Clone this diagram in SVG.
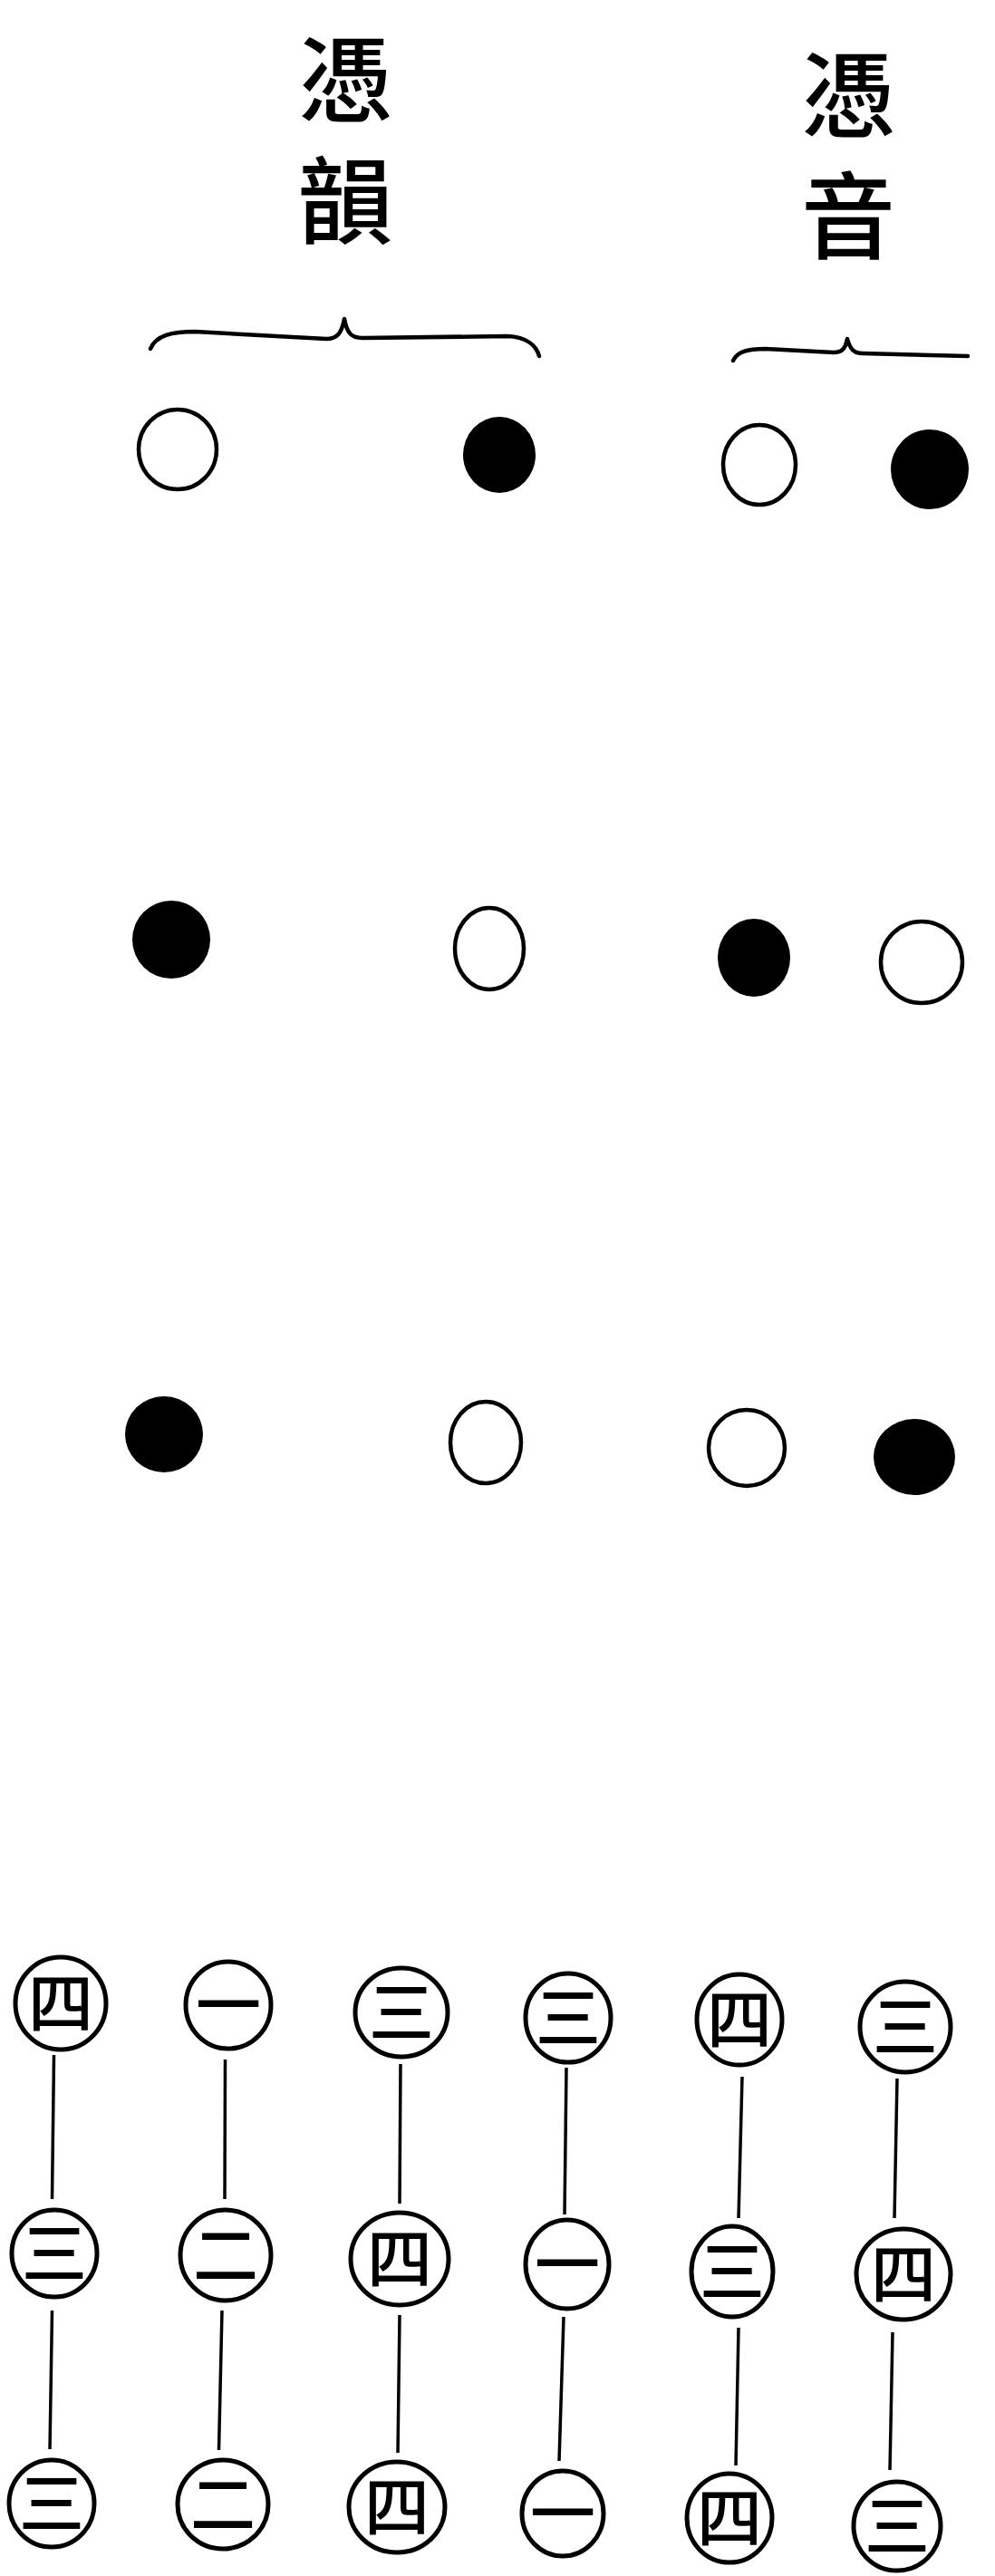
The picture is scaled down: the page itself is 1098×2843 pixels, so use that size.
<svg xmlns="http://www.w3.org/2000/svg" width="1098" height="2843" viewBox="0 0 1098 2843">
<style>
.bg{fill:#ffffff}
.hd{font-family:"Noto Sans CJK TC","Noto Sans CJK SC",sans-serif;font-size:104px;font-weight:500;fill:#000;writing-mode:vertical-rl;letter-spacing:30px}
.brace{fill:none;stroke:#000;stroke-width:4.5;stroke-linecap:round;stroke-linejoin:round}
.open{fill:#fff;stroke:#000;stroke-width:4.5}
.full{fill:#000}
.node{fill:#fff;stroke:#000;stroke-width:5}
.num{font-family:"Noto Sans CJK TC","Noto Sans CJK SC",sans-serif;font-size:72px;font-weight:500;fill:#000;text-anchor:middle}
.link{stroke:#000;stroke-width:3.5;fill:none}
</style>
<rect class="bg" x="0" y="0" width="1098" height="2843"/>
<g id="header-left">
<text class="hd" x="381" y="35">憑韻</text>
<path class="brace" d="M166,385 C172,370 190,366 215,366 L360,374 C372,374 377,368 380,352 C383,368 388,373 400,373 L560,371 C582,372 592,382 595,393"/>
</g>
<g id="header-right">
<text class="hd" x="936" y="52">憑音</text>
<path class="brace" d="M809,398 C813,389 823,385 845,385 L920,389 C929,389 933,385 935,374 C938,385 942,390 952,390 L1068,393"/>
</g>
<g id="row1">
<ellipse class="open" cx="196" cy="496" rx="43" ry="44"/>
<ellipse class="full" cx="551" cy="502" rx="40" ry="42"/>
<ellipse class="open" cx="838" cy="513" rx="40" ry="44"/>
<ellipse class="full" cx="1026" cy="518" rx="43" ry="44"/>
</g>
<g id="row2">
<ellipse class="full" cx="189" cy="1037" rx="43" ry="43"/>
<ellipse class="open" cx="540" cy="1047" rx="38" ry="45"/>
<ellipse class="full" cx="832" cy="1057" rx="40" ry="43"/>
<ellipse class="open" cx="1017" cy="1062" rx="45" ry="45"/>
</g>
<g id="row3">
<ellipse class="full" cx="181" cy="1583" rx="43" ry="42"/>
<ellipse class="open" cx="536" cy="1592" rx="39" ry="45"/>
<ellipse class="open" cx="824" cy="1598" rx="42" ry="42"/>
<ellipse class="full" cx="1009" cy="1608" rx="45" ry="42"/>
</g>
<g id="connectors">
<line class="link" x1="59.5" y1="2268" x2="57.5" y2="2427"/>
<line class="link" x1="57.5" y1="2550" x2="55" y2="2703"/>
<line class="link" x1="248.5" y1="2273" x2="248" y2="2427"/>
<line class="link" x1="245" y1="2550" x2="241.5" y2="2704"/>
<line class="link" x1="442" y1="2278" x2="441" y2="2432"/>
<line class="link" x1="441" y1="2555" x2="439" y2="2707"/>
<line class="link" x1="625" y1="2282" x2="623" y2="2444"/>
<line class="link" x1="622" y1="2557" x2="617" y2="2716"/>
<line class="link" x1="819" y1="2292" x2="815" y2="2448"/>
<line class="link" x1="815" y1="2569" x2="812" y2="2721"/>
<line class="link" x1="990" y1="2294" x2="987" y2="2448"/>
<line class="link" x1="985" y1="2574" x2="982" y2="2726"/>
</g>
<g id="n-a1"><ellipse class="node" cx="67" cy="2211" rx="50" ry="51"/><text class="num" x="67" y="2237">四</text></g>
<g id="n-a2"><ellipse class="node" cx="252" cy="2213" rx="47" ry="48"/><text class="num" x="252" y="2239">一</text></g>
<g id="n-a3"><ellipse class="node" cx="443" cy="2221" rx="51" ry="49"/><text class="num" x="443" y="2247">三</text></g>
<g id="n-a4"><ellipse class="node" cx="627" cy="2227" rx="47" ry="49"/><text class="num" x="627" y="2253">三</text></g>
<g id="n-a5"><ellipse class="node" cx="816" cy="2229" rx="47" ry="50"/><text class="num" x="816" y="2255">四</text></g>
<g id="n-a6"><ellipse class="node" cx="999" cy="2237" rx="50" ry="50"/><text class="num" x="999" y="2263">三</text></g>
<g id="n-b1"><ellipse class="node" cx="60" cy="2487" rx="47" ry="48"/><text class="num" x="60" y="2513">三</text></g>
<g id="n-b2"><ellipse class="node" cx="249" cy="2489" rx="50" ry="50"/><text class="num" x="249" y="2515">二</text></g>
<g id="n-b3"><ellipse class="node" cx="441" cy="2493" rx="54" ry="51"/><text class="num" x="441" y="2519">四</text></g>
<g id="n-b4"><ellipse class="node" cx="626" cy="2499" rx="46" ry="49"/><text class="num" x="626" y="2525">一</text></g>
<g id="n-b5"><ellipse class="node" cx="808" cy="2507" rx="45" ry="50"/><text class="num" x="808" y="2533">三</text></g>
<g id="n-b6"><ellipse class="node" cx="997" cy="2510" rx="52" ry="50"/><text class="num" x="997" y="2536">四</text></g>
<g id="n-c1"><ellipse class="node" cx="57" cy="2763" rx="47" ry="48"/><text class="num" x="57" y="2789">三</text></g>
<g id="n-c2"><ellipse class="node" cx="246" cy="2764" rx="50" ry="49"/><text class="num" x="246" y="2790">二</text></g>
<g id="n-c3"><ellipse class="node" cx="438" cy="2767" rx="53" ry="50"/><text class="num" x="438" y="2793">四</text></g>
<g id="n-c4"><ellipse class="node" cx="621" cy="2774" rx="45" ry="47"/><text class="num" x="621" y="2800">一</text></g>
<g id="n-c5"><ellipse class="node" cx="805" cy="2779" rx="47" ry="49"/><text class="num" x="805" y="2805">四</text></g>
<g id="n-c6"><ellipse class="node" cx="990" cy="2788" rx="48" ry="49"/><text class="num" x="990" y="2814">三</text></g>
</svg>
